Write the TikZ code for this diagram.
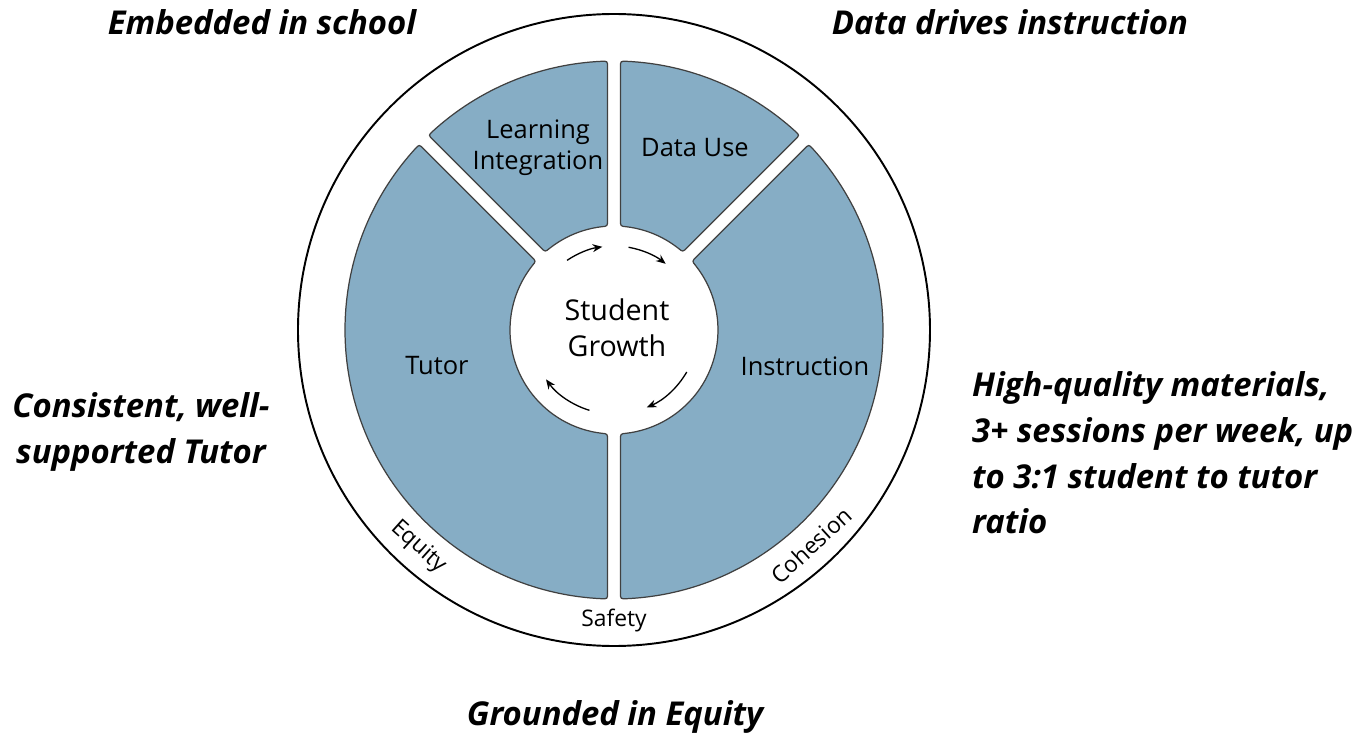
\documentclass[tikz,border=0pt]{standalone}
\usepackage{fontspec}
\setmainfont{Open Sans}
\usetikzlibrary{arrows.meta, calc}
\definecolor{segblue}{RGB}{134,173,197}
\definecolor{segline}{RGB}{64,64,64}

\begin{document}
\begin{tikzpicture}[x=0.02cm, y=0.02cm,
    seg/.style={fill=segblue, draw=segline, line width=0.7pt},
    cyc/.style={line width=0.75pt, -{Stealth[length=5.5pt, width=4.5pt]}},
    claim/.style={font=\fontsize{18.7}{26}\selectfont\bfseries\itshape, align=center},
    part/.style={font=\fontsize{14.5}{17.5}\selectfont, align=center},
    ring/.style={font=\fontsize{13}{15}\selectfont}]
		\useasboundingbox (-614,-404) rectangle (743,330);
		\coordinate (C) at (0,0);
		\draw[line width=1.1pt] (C) circle[radius=316];
		% four parts, gaps 13 wide, corners rounded by hand
		\foreach \a/\b in {45/90, 90/135, 135/270, -90/45} {
			\pgfmathsetmacro\oa{\a+1.385}
			\pgfmathsetmacro\ob{\b-1.385}
			\pgfmathsetmacro\ia{\a+3.58}
			\pgfmathsetmacro\ib{\b-3.58}
			\pgfmathsetmacro\oaa{\oa+1.28}
			\pgfmathsetmacro\obb{\ob-1.28}
			\pgfmathsetmacro\iaa{\ia+3.3}
			\pgfmathsetmacro\ibb{\ib-3.3}
			\draw[seg] ($(\ia:104)+(\a:6)$) -- ($(\oa:269)+(\a:-6)$)
			.. controls (\oa:269) .. (\oaa:269)
			arc[start angle=\oaa, end angle=\obb, radius=269]
			.. controls (\ob:269) .. ($(\ob:269)+(\b:-6)$)
			-- ($(\ib:104)+(\b:6)$)
			.. controls (\ib:104) .. (\ibb:104)
			arc[start angle=\ibb, end angle=\iaa, radius=104]
			.. controls (\ia:104) .. ($(\ia:104)+(\a:6)$) -- cycle;
		}
		% cycle arrows round the centre
		\draw[cyc] (124:84) arc[start angle=124, end angle=98, radius=84];
		\draw[cyc] (80:84) arc[start angle=80, end angle=52, radius=84];
		\draw[cyc] (-30:84) arc[start angle=-30, end angle=-67, radius=84];
		\draw[cyc] (-107:84) arc[start angle=-107, end angle=-144, radius=84];
		\node[font=\fontsize{16.3}{20.5}\selectfont, align=center] (growth) at (3,2) {Student\\Growth};
		\node[part] (learning) at (-76,182) {Learning\\Integration};
		\node[part] (datause) at (81,182) {Data Use};
		\node[part] (tutor) at (-177,-36) {Tutor};
		\node[part] (instruction) at (191,-36) {Instruction};
		\node[ring, rotate=-42] (equity) at (228:292) {Equity};
		\node[ring] (safety) at (270:291) {Safety};
		\node[ring, rotate=42.5] (cohesion) at (312.5:292) {Cohesion};
		\node[claim] (embedded) at (-352,308) {Embedded in school};
		\node[claim] (datadrives) at (396,308) {Data drives instruction};
		\node[claim] (consistent) at (-473,-102) {Consistent, well-\\supported Tutor};
		\node[claim, align=left, anchor=west] (highquality) at (352,-123) {High-quality materials,\\3+ sessions per week, up\\to 3:1 student to tutor\\ratio};
		\node[claim] (grounded) at (1,-387) {Grounded in Equity};
		\end{tikzpicture}
\end{document}
